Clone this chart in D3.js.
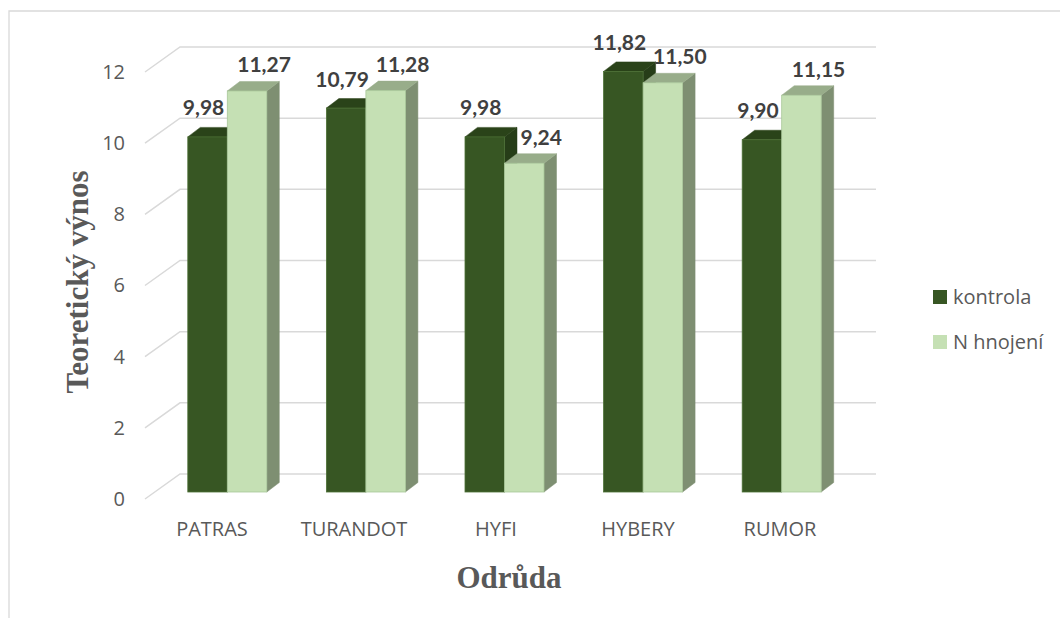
<!DOCTYPE html>
<html><head><meta charset="utf-8">
<script src="https://cdn.jsdelivr.net/npm/d3@7"></script>
<style>
html,body{margin:0;padding:0;background:#fff;}
svg{display:block;}
</style></head>
<body>
<svg id="chart" width="1060" height="618"></svg>
<script>
const categories = ["PATRAS", "TURANDOT", "HYFI", "HYBERY", "RUMOR"];
const seriesNames = ["kontrola", "N hnojení"];
const kontrola = [9.98, 10.79, 9.98, 11.82, 9.90];
const nHnojeni = [11.27, 11.28, 9.24, 11.50, 11.15];
const yTicks = [0, 2, 4, 6, 8, 10, 12];
const yTitle = "Teoretický výnos";
const xTitle = "Odrůda";

const seriesValues = [kontrola, nHnojeni];
const colors = [
  {front: "#375623", top: "#2a4319", side: "#263d18", stroke: "#4d7036", labelDx: -4, labelDy: -12},
  {front: "#c5e0b4", top: "#98ad8a", side: "#7e8f72", stroke: "#a9c79a", labelDx: 17, labelDy: -9}
];

const svg = d3.select("#chart");
const textCol = "#595959";

// chart frame
svg.append("path").attr("d", "M9,618 V11 H1060").attr("fill","none").attr("stroke","#d9d9d9").attr("stroke-width",1.3);

// scales
const yFront = d3.scaleLinear().domain([0, 12]).range([499, 72]);
const depth = {dx: 35, dy: -25};
const frontLeft = 145, backRight = 876;
const yBar = d3.scaleLinear().domain([0, 12]).range([492, 65]);
const barDepth = {dx: 12.5, dy: -9.5};

const x0 = d3.scaleBand().domain(categories).range([158, 851]).paddingInner(0.43).paddingOuter(0.215);
const x1 = d3.scaleBand().domain(seriesNames).range([0, x0.bandwidth()]);
const xLabel = d3.scaleBand().domain(categories).range([141, 851]);

// gridlines (walls)
const grid = svg.append("g");
yTicks.forEach(t => {
  const yf = yFront(t);
  grid.append("path")
    .attr("d", `M${frontLeft},${yf} L${frontLeft + depth.dx},${yf + depth.dy} L${backRight},${yf + depth.dy}`)
    .attr("fill", "none").attr("stroke", "#d9d9d9").attr("stroke-width", 1.5);
});

// y tick labels
const yAxis = d3.axisLeft(yFront).tickValues(yTicks).tickSize(0).tickPadding(0);
const yg = svg.append("g").attr("transform", "translate(125,0)").call(yAxis);
yg.select(".domain").remove();
yg.selectAll("text").attr("font-family", "'Open Sans', sans-serif").attr("font-size", 20).attr("fill", textCol);

// bars
const barsG = svg.append("g");
categories.forEach((c, i) => {
  seriesNames.forEach((s, j) => {
    const v = seriesValues[j][i];
    const x = x0(c) + x1(s);
    const w = x1.bandwidth();
    const y = yBar(v), y0 = yBar(0);
    const col = colors[j];
    const g = barsG.append("g");
    g.append("path")
      .attr("d", `M${x + w},${y} L${x + w + barDepth.dx},${y + barDepth.dy} L${x + w + barDepth.dx},${y0 + barDepth.dy} L${x + w},${y0} Z`)
      .attr("fill", col.side).attr("stroke", col.side).attr("stroke-width", 0.5);
    g.append("path")
      .attr("d", `M${x},${y} L${x + barDepth.dx},${y + barDepth.dy} L${x + w + barDepth.dx},${y + barDepth.dy} L${x + w},${y} Z`)
      .attr("fill", col.top).attr("stroke", col.top).attr("stroke-width", 0.5);
    g.append("rect")
      .attr("x", x).attr("y", y).attr("width", w).attr("height", y0 - y)
      .attr("fill", col.front).attr("stroke", col.stroke).attr("stroke-width", 0.8);
  });
});

// data labels
const fmt = v => v.toFixed(2).replace(".", ",");
categories.forEach((c, i) => {
  seriesNames.forEach((s, j) => {
    const v = seriesValues[j][i];
    const col = colors[j];
    const x = x0(c) + x1(s) + x1.bandwidth() / 2 + col.labelDx;
    const y = yBar(v) + barDepth.dy + col.labelDy;
    svg.append("text").attr("x", x).attr("y", y)
      .attr("text-anchor", "middle")
      .attr("font-family", "Lato, 'Open Sans', sans-serif").attr("font-weight", "bold")
      .attr("font-size", 21).attr("fill", "#404040")
      .text(fmt(v));
  });
});

// category labels
const xAxis = d3.axisBottom(xLabel).tickSize(0).tickPadding(0);
const xg = svg.append("g").attr("transform", "translate(0,522)").call(xAxis);
xg.select(".domain").remove();
xg.selectAll("text").attr("font-family", "'Open Sans', sans-serif").attr("font-size", 20).attr("fill", textCol).attr("dy", "0.71em");

// axis titles
svg.append("text").attr("x", 509).attr("y", 588).attr("text-anchor", "middle")
  .attr("font-family", "'Liberation Serif', 'Times New Roman', serif").attr("font-weight", "bold")
  .attr("font-size", 31).attr("fill", textCol).text(xTitle);
svg.append("text").attr("transform", "translate(88,282) rotate(-90)").attr("text-anchor", "middle")
  .attr("font-family", "'Liberation Serif', 'Times New Roman', serif").attr("font-weight", "bold")
  .attr("font-size", 31).attr("fill", textCol).text(yTitle);

// legend
const legend = svg.append("g");
const legendY = [297, 342];
seriesNames.forEach((s, j) => {
  legend.append("rect").attr("x", 933).attr("y", legendY[j] - 7).attr("width", 14).attr("height", 14).attr("fill", colors[j].front);
  legend.append("text").attr("x", 953).attr("y", legendY[j]).attr("dy", "0.35em")
    .attr("font-family", "'Open Sans', sans-serif").attr("font-size", 20).attr("fill", textCol).text(s);
});
</script>
</body></html>
